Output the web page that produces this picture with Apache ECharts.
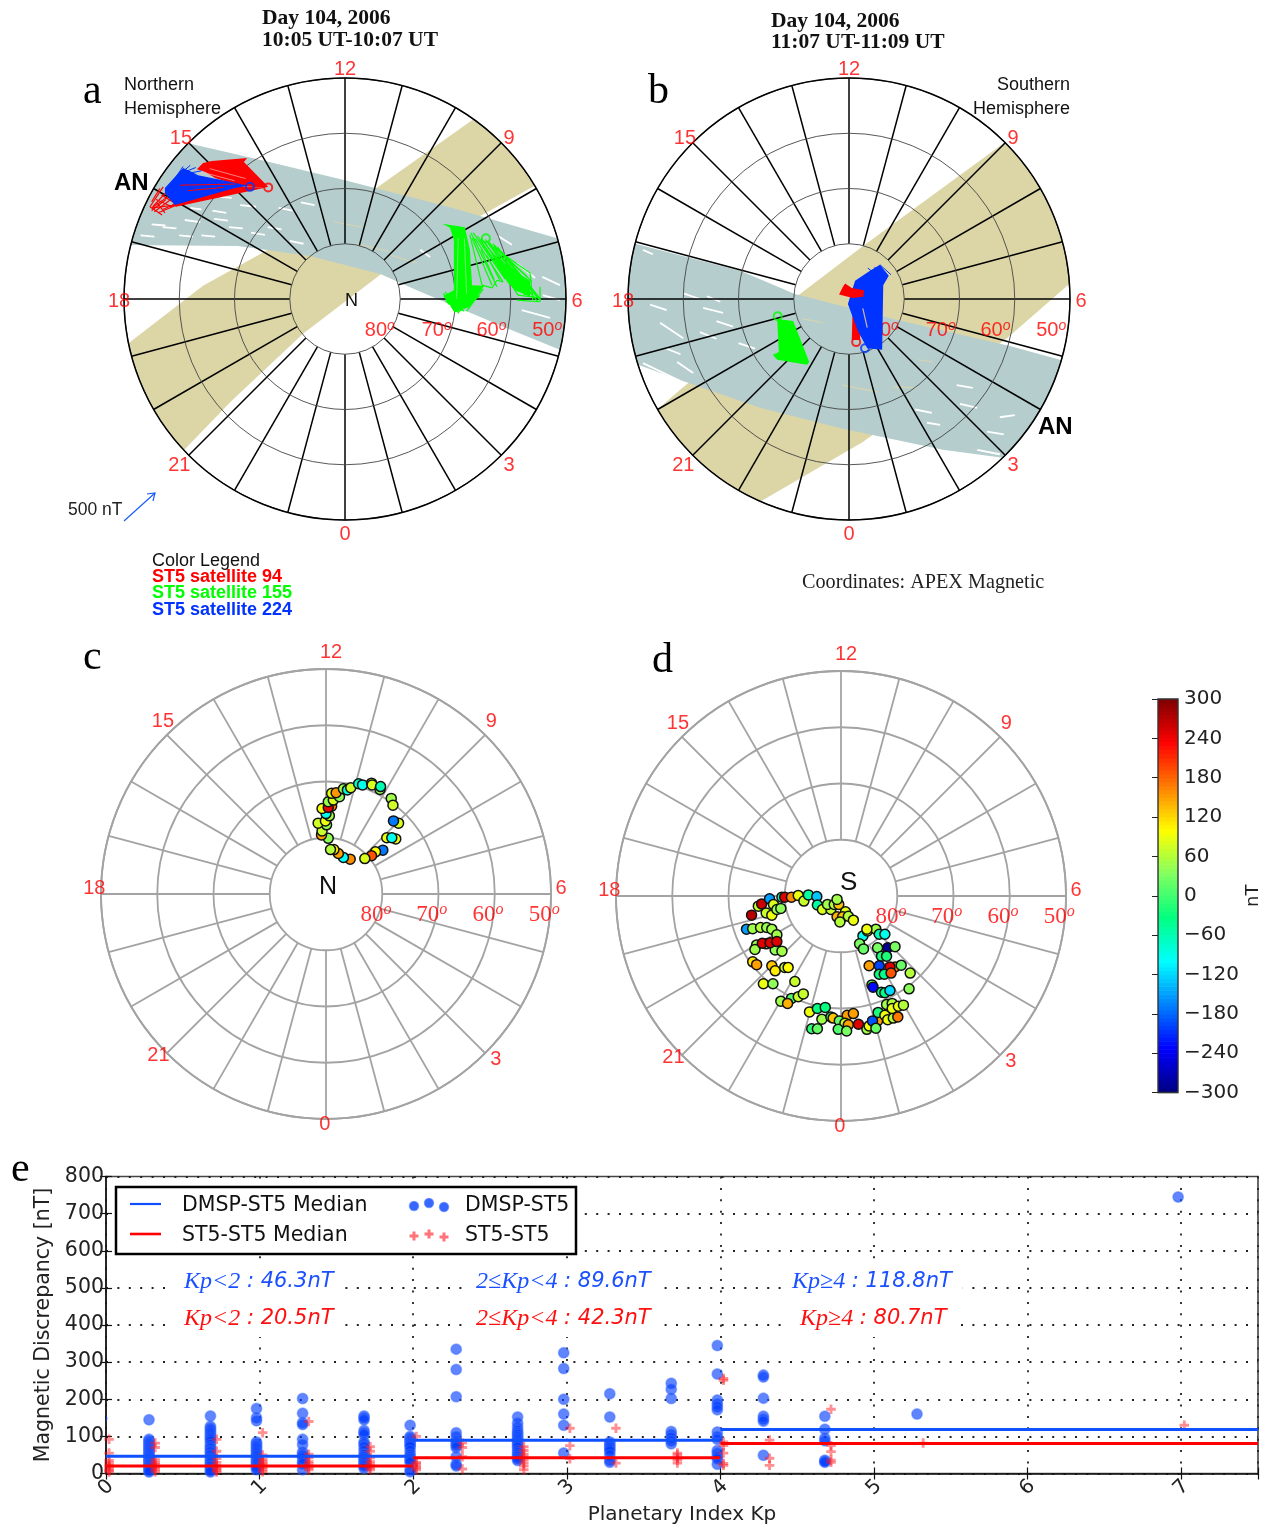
<!DOCTYPE html>
<html>
<head>
<meta charset="utf-8">
<title>ST5 / DMSP magnetic discrepancy</title>
<script src="https://cdn.jsdelivr.net/npm/echarts@6/dist/echarts.min.js"></script>
<style>
  html, body { margin: 0; padding: 0; background: #fff; }
  #main { width: 1267px; height: 1525px; }
</style>
</head>
<body>
<div id="main"></div>
<script>
// dial data are [east, north] in degrees of colatitude from the pole (east = 6 MLT, north = 12 MLT)
var hourTicks = [0,1,2,3,4,5,6,7,8,9,10,11,12,13,14,15,16,17,18,19,20,21,22,23];
var latRings = [80, 70, 60, 50];

// orbit swaths, panel a
var aTeal = [[-33.5,31.5],[-28.4,28.2],[-15.4,25.2],[0,21.5],[19,16.6],[38.4,11],[44.3,9.2],[44.3,-11.4],[38.9,-9.2],[29.1,-5.2],[13,1.6],[6.5,4.5],[-6.3,7.8],[-19.4,9.6],[-42.5,9.8]];
var aTan = [[-42.5,-10.7],[-38.9,-7.8],[-25.7,2.4],[-15.4,8.1],[6,20.3],[22.8,32.2],[26.2,34.6],[38,22.4],[34,20.3],[24.1,14.8],[6.5,4.5],[-7.6,-6.3],[-20.6,-18.5],[-28.6,-26.8],[-32.6,-30.9]];
var aWhiteStreaks = [[-23.7,14.5,-21.2,14.2],[-29,14.3,-26.2,13.9],[-19,17,-16.1,16.7],[-22.6,18.5,-20.5,18.3],[-14,13,-11.5,12.6],[-26,11.5,-23.5,11.3],[-8,17.5,-5.5,17],[27.7,11.4,30.2,9.8],[31.1,6.5,34.4,3.8],[35.7,4,38.9,2.5],[35.8,0.7,38.9,-0.2],[13.6,8.9,15.4,7.6],[32,-2,37.1,-3.4],[-33,13,-30.5,12.8],[-17,12,-14.5,11.6],[-30,11.5,-27.5,11.3],[-21,13,-18.5,12.8],[-12,16.5,-9.5,16],[-35,13.5,-32.5,13.3],[-24,16,-21.5,15.6],[-10,10.5,-7.5,10],[-28,16.5,-26,16.2],[-37,11.5,-34.5,11.3]];
var aTanStreaks = [[2,10,8,8.6],[8,8,13,6.5],[-2,14,3,13]];

// orbit swaths, panel b
var bTan = [[-37.8,-22.8],[-34.8,-20.1],[-30.2,-16.1],[-9.4,0.5],[2,9.2],[27.3,27.7],[31,30.6],[43.6,5.2],[39.5,2.4],[28.6,-7.1],[2.5,-25.9],[-16.1,-36.7],[-19.7,-39.1]];
var bTeal = [[-43.3,11.6],[-38.7,10],[-19.7,5.1],[-9.8,0.9],[8,-3.6],[29.1,-8.5],[43.6,-12.5],[34.6,-29.9],[28.2,-28.8],[17,-27.3],[-1.1,-23.5],[-16.1,-19.7],[-30.2,-14.8],[-38.2,-11.9],[-42.4,-10.7]];
var bWhiteStreaks = [[-34.2,-4.3,-30,-7.1],[-26.4,-1.6,-22.8,-2.5],[-31.1,-11.4,-28.2,-13.4],[-37.3,-11.6,-30.6,-14.8],[19.5,-15.6,22.4,-16.1],[20.1,-19,23.2,-19.7],[14.1,-22.4,16.5,-22.8],[23.2,-27.3,27.3,-28.1],[-37.3,8.9,-35.5,8.1],[-25.7,0.5,-23.3,-0.5],[27.3,-21.4,30,-21],[-36,-1,-33,-2],[-33,-9,-30.5,-10],[-24,-4,-21,-5],[-27,-6,-24,-7.2],[-30,1,-27,0],[-20,-8,-17,-9],[12,-20,15,-20.6],[25,-24,28,-24.5]];
var bTanStreaks = [[-8.3,-3.6,-4.7,-4.3],[8,-15.9,12.3,-16.1],[12.5,-11,15.2,-11.4],[-1.1,-15.6,5.1,-16.8]];

// ST5 vector fans, panel a
var aRedFan = [[-26.8,23.5],[-25.7,24.6],[-24.1,25],[-17.7,25.5],[-18.3,24.8],[-13.9,20.3],[-14.8,20.1],[-19.5,20.6],[-23.5,21.9],[-25.3,23]];
var aRedStrip = [[-14.7,20.1],[-30.6,16.7],[-31.3,17.2],[-19.9,20.5]];
var aRedVectors = [[-32,19.7,-34.8,16.7],[-31.7,18.8,-34.9,16.5],[-30.8,17,-34.9,16.5],[-32.9,20.3,-35.3,16.7],[-35.3,16.7,-33.1,15.2],[-34.2,18,-31.3,16.7],[-33.2,18.8,-30.2,17],[-33.5,20,-35,17.6],[-31,18.4,-34.5,15.8],[-30,17.2,-33.8,15.6],[-32.4,18,-35,16],[-29.8,17.6,-33,16.2],[-34,17.4,-32.6,15.6]];
var aRedGaps = [[-26,23,-20,21.4],[-24.5,23.6,-18,21.8]];
var aBlueFan = [[-32.6,20.1],[-29.3,23.7],[-27.7,23],[-26.6,22.4],[-20.8,21.2],[-17.6,20.5],[-19.9,20.1],[-30.8,17],[-32.6,19.2]];
var aBlueTicks = [[-31,21.5,-29.3,24],[-30,22.5,-28,24.2],[-29,23,-27,23.8],[-28,22.8,-26,23.2]];
var aRedInner = [[-29.9,20.6,-19.9,20.8],[-28.5,19.6,-22,20.2]];
var aGreenColumn = [[17.6,13.6],[21.7,13],[22.6,8.9],[23,2.5],[25.2,2.4],[22.6,-1.4],[19.9,-2.4],[17.8,0.6],[19.7,1.6],[19.7,10.7],[19,12.9]];
var aGreenPatch = [[26.2,8.9],[29,6.2],[33.5,3.3],[33.5,0.4],[30.8,1.6],[28.6,4.3]];
var aGreenVectors = [[22.6,11.6,24.8,2.5],[23,11,26.6,2.5],[23.5,11,28.6,3.1],[24.4,10.7,29.9,2.5],[25.2,10.5,31.3,0.7],[25.9,10.1,32.6,0.7],[26.2,9.8,33.5,4.7],[27.2,8.9,34,1.6],[28.1,8,34.9,-0.5],[29,6.7,35.3,-0.2],[31.3,0.7,35.3,0.2],[31.1,-0.2,35.3,-0.5],[33.5,4.7,34,-0.2],[35.3,2.2,35.3,-0.5],[24.8,2.5,26.6,2],[26.6,2,27.5,3.4],[27.5,3.4,28.6,3.1],[18.1,0.4,18.8,-1],[18.6,-0.2,19.9,-2.4],[18.1,1.3,20.8,-1.3],[22.8,12,27.5,2.2],[23.2,12,29,3.6],[24,11.4,30.5,2],[24.6,11,31.8,1.5],[25.4,10.8,33,1.2],[26,10.4,33.8,0.8],[26.8,10,34.5,1],[27.6,9.4,35,0.4],[28.4,8.4,35.2,0.2],[29.6,7,35.3,-0.2],[27,9.6,33,4],[28,8.6,33.8,3.2],[24.6,9,27,3.5],[25.6,8,28,3.5],[17.8,1,20.6,-2.6],[18.2,-0.4,21.6,-2.2],[20.5,-2.4,24.4,0.6],[22,-2.2,25,1.8]];
var aGreenGaps = [[20.5,11,20.2,0],[21.6,11,22,1]];

// ST5 vector fans, panel b
var bGreenBlock = [[-13,-3.6],[-10.1,-4],[-7.2,-11.4],[-7.6,-11.9],[-13,-11],[-13.8,-10.1],[-12.7,-9.6]];
var bBlueFan = [[5.6,6.2],[7.2,4.2],[6.2,2.5],[6,-9.2],[3.3,-8.9],[1.6,-5.8],[-0.2,-0.9],[1.1,3.3],[3.8,5.1]];
var bBlueTicks = [[5.6,6.2,7.6,4.4],[4.6,5.8,6.8,3.6],[3.4,5.6,6.4,3.2]];
var bBlueGaps = [[2.5,-1.7,3.3,-5.2]];
var bRedColumn = [[0.7,-0.2],[2.2,-0.2],[2,-7.4],[0.5,-7.4]];
var bRedCluster = [[-1.8,0.8],[-1.1,2.2],[-0.7,2.8],[0.5,2],[2.7,1.6],[2.6,0.4],[0.7,0.2],[-0.2,0.4]];

// vector start markers
var aRedStart = [[-13.9,20.2]];
var aBlueStart = [[-17.2,20.3]];
var aGreenStart = [[25.5,11]];
var bRedStart = [[1.3,-7.8]];
var bBlueStart = [[2.9,-8.9]];
var bGreenStart = [[-12.9,-3.1]];

// panel c conjunctions: [east, north, nT]
var dotsNorth = [[0.4,9.9,40],[-0.8,10.5,150],[-0.7,11.2,70],[0.1,12.3,45],[-1.4,12.6,75],[-0.1,13,90],[0.6,13.9,50],[0,14.3,-90],[-0.7,15.2,95],[1,15.6,170],[0.4,15.4,245],[0.4,16.4,45],[1.3,16.7,80],[2.4,17.3,40],[1,17.9,85],[1.8,18,155],[3.1,18.7,50],[3.8,18.5,-80],[4.4,18.9,75],[5.8,19.6,-70],[6.5,19.4,-90],[8.1,19.7,70],[8.2,19.4,80],[9.6,18.6,45],[9.7,19.1,-60],[11.6,17,50],[11.9,15.8,75],[12.9,12.6,80],[12,13,-170],[10.8,10,90],[12.4,9.8,90],[11.7,10,-90],[10.1,7.8,-170],[8.8,7.5,100],[8.1,6.8,190],[6.9,6.3,80],[4.3,6.2,160],[3.1,6.5,-100],[2.2,7.2,150],[1.4,7.9,110],[0.8,7.9,60]];

// panel d conjunctions: [east, north, nT]
var dotsSouth = [[-15.9,-3.4,270],[-14.7,-1.8,70],[-14.1,-1.4,260],[-12.7,-0.5,-150],[-12,-1.5,80],[-13.3,-3,70],[-12.3,-3.4,90],[-11.4,-2.4,50],[-10.7,-2.2,40],[-10.5,-0.2,-60],[-10,-0.2,250],[-8.8,-0.2,160],[-7.6,0.1,90],[-6.6,-0.9,70],[-5.8,0.2,-50],[-4.3,-0.1,-130],[-4.2,-1.6,-50],[-3.3,-2.4,80],[-1.8,-2.4,70],[-2.4,-1.5,50],[-1.2,-1.5,60],[-0.4,-1.5,130],[-0.7,-0.6,50],[0.8,-2.8,85],[-0.7,-3.7,140],[0.3,-3.7,130],[1.3,-3.6,60],[2.2,-4.3,90],[-0.2,-4.6,60],
  [-16.8,-5.9,-150],[-15.7,-5.8,50],[-14.3,-5.6,60],[-13.2,-5.6,45],[-12.3,-5.9,50],[-11.4,-6.9,50],[-15,-8.7,50],[-15.3,-9.5,50],[-13.3,-8.5,60],[-11.7,-9.6,40],[-10.5,-9.8,50],[-14,-8.4,250],[-12.6,-8.3,250],[-11.4,-8.1,250],
  [-15.7,-11.7,110],[-15,-12.2,150],[-12.3,-12.4,130],[-11.7,-13.3,110],[-10,-12.7,70],[-9.4,-12.7,100],[-13.8,-15.6,90],[-12.1,-15.6,40],[-8.2,-15.2,70],[-10.7,-18.7,50],[-8.8,-18.2,10],[-9.5,-19.1,140],[-7.6,-17.9,70],[-6.7,-17.4,70],
  [-5.6,-20.6,90],[-4.2,-20,-30],[-2.8,-19.8,-30],[-3.4,-21.9,50],[-5.2,-23.6,-10],[-4.2,-23.6,20],[-1.8,-21.5,-10],[-1.4,-21.7,130],[-0.3,-22.2,20],[1.1,-21.2,150],[2.2,-20.9,150],[0.7,-22.6,70],[1.3,-22.9,150],[3.1,-22.8,250],[-0.5,-23.7,10],[1,-24,30],[4.6,-23.7,50],[5,-23.1,90],[6.5,-22.2,150],[5.6,-22.2,-190],[6.2,-23.5,20],[6.6,-20.7,-20],[7.8,-21.2,90],[8.3,-22,90],[9.3,-21.7,60],[10.1,-21.5,170],[8.1,-19.3,50],[9.1,-19.1,60],[9.1,-20,90],[10.2,-19.6,90],[11.1,-19.4,60],
  [3.9,-7.1,-90],[3.3,-8.5,30],[4,-9.4,20],[4.7,-6.2,80],[6.2,-5.9,50],[4.6,-5.9,90],[6.8,-6.8,-60],[7.8,-6.8,-90],[6.5,-9.2,30],[8.3,-9.2,-290],[9.6,-9,30],[7.2,-10.7,-20],[8.1,-10.7,-20],[5,-12.4,150],[6.8,-12.4,-200],[9.6,-12.6,160],[8.7,-12.6,250],[10.7,-12.3,20],[6.8,-13.9,-30],[7.7,-13.9,-40],[8.9,-13.7,190],[12.3,-13.7,60],[5.5,-15.8,20],[5.7,-16.2,-230],[7.2,-17.1,-30],[7.8,-17.2,-40],[8.7,-16.8,-120],[12.1,-16.5,40]];

var jetColors = ['#00007f','#0000ff','#007fff','#00ffff','#00ff80','#80ff60','#ffff00','#ff7f00','#ff0000','#7f0000'];
var colorbarTicks = [-300,-240,-180,-120,-60,0,60,120,180,240,300];

// panel e: discrepancy in nT for each Kp bin
var kpBins = [0,0.3,0.7,1,1.3,1.7,2,2.3,2.7,3,3.3,3.7,4,4.3,4.7,5.3,7];
var dmsp00 = [148];
var dmsp03 = [145,92,88,84,80,76,72,68,64,60,56,52,48,44,40,36,32,28,24,20,16,12,8,4];
var dmsp07 = [155,127,122,117,112,107,102,97,92,87,78,72,68,62,58,52,48,42,38,32,28,22,18,12,8,4];
var dmsp10 = [175,150,142,85,80,75,70,65,60,55,50,45,40,35,30,26,20,15,10];
var dmsp13 = [202,162,137,132,92,78,58,52,48,42,32,26,10];
var dmsp17 = [155,150,145,116,110,105,85,80,72,62,52,46,40,35,30,25,20,14];
var dmsp20 = [130,100,96,92,88,84,80,76,72,62,52,46,40,35,30,10,5];
var dmsp23 = [335,280,207,110,100,88,82,76,70,45,25,20];
var dmsp27 = [152,136,125,116,110,105,100,95,90,85,80,75,70,62,56,50,45,40,35];
var dmsp30 = [325,283,200,160,130,55];
var dmsp33 = [215,152,85,80,75,70,65,60,50,36,30];
var dmsp37 = [243,227,202,113,105,97,88,80];
var dmsp40 = [345,268,198,188,180,172,112,100,92,62,55,46,40,25];
var dmsp43 = [265,260,203,154,147,141,49];
var dmsp47 = [154,119,95,88,36,33,30];
var dmsp53 = [160];
var dmsp70 = [745];
var st500 = [92,55,35,28,22,18,12,8,4];
var st503 = [82,70,37,30,25,20,15,10,5];
var st507 = [92,60,40,30,22,16,12,8,4];
var st510 = [110,50,38,33,28,24,20,15,10,5];
var st513 = [140,52,42,32,26,20,15,10];
var st517 = [72,60,42,32,25,20,15,10];
var st520 = [100,30,26,20,15,10];
var st523 = [82,70,45,12];
var st527 = [72,62,52,45,36,28,20,10];
var st530 = [122,75,40];
var st533 = [122,28];
var st537 = [55,50,42,36,28];
var st540 = [256,251,85,75,55,27,22];
var st543 = [90,41,22];
var st547 = [173,75,59,36,30];
var st553 = [82];
var st570 = [130];
var dmspColumns = [dmsp00,dmsp03,dmsp07,dmsp10,dmsp13,dmsp17,dmsp20,dmsp23,dmsp27,dmsp30,dmsp33,dmsp37,dmsp40,dmsp43,dmsp47,dmsp53,dmsp70];
var st5Columns = [st500,st503,st507,st510,st513,st517,st520,st523,st527,st530,st533,st537,st540,st543,st547,st553,st570];
var kpEdges = [0,2,4,7.5];
var dmspMedian = [46.3,89.6,118.8];
var st5Median = [20.5,42.3,80.7];
var kpRangeLabels = ['Kp<2','2≤Kp<4','Kp≥4'];

// where the four dials sit and how they are labelled
var dials = [
  {cx:345, cy:299, R:221, line:'#000', ring:'#444', ringWidth:0.9, spokeWidth:1.5},
  {cx:849, cy:299, R:221, line:'#000', ring:'#444', ringWidth:0.9, spokeWidth:1.5},
  {cx:326, cy:894, R:225, line:'#a3a3a3', ring:'#a3a3a3', ringWidth:1.8, spokeWidth:1.8},
  {cx:841, cy:896, R:225, line:'#a3a3a3', ring:'#a3a3a3', ringWidth:1.8, spokeWidth:1.8}
];
var hourLabelsTop = [['12',0,41.8],['15',-29.7,29.3],['18',-40.9,-0.2],['21',-30,-29.9],['0',0,-42.4],['3',29.7,-29.9],['6',42,-0.2],['9',29.7,29.3]];
var hourLabelsLow = [['12',0.9,43.2],['15',-29,30.9],['18',-41.2,1.2],['21',-29.8,-28.4],['0',-0.2,-40.7],['3',30.2,-29.2],['6',41.8,1.2],['9',29.4,30.9]];
var latLabelXTop = [6.3,16.6,26.5,36.6];
var latLabelXLow = [8.9,18.8,28.8,38.8];

function toPolar(p) {
  var hour = Math.atan2(p[0], -p[1]) * 180 / Math.PI / 15;
  return [Math.sqrt(p[0] * p[0] + p[1] * p[1]), (hour + 24) % 24];
}

function polygonSeries(polarIndex, points, color, z, opacity) {
  return {
    type: 'custom', coordinateSystem: 'polar', polarIndex: polarIndex, clip: true, silent: true, z: z,
    data: [[0, 0]],
    renderItem: function (params, api) {
      return {
        type: 'polygon',
        shape: { points: points.map(function (p) { return api.coord(toPolar(p)); }) },
        style: { fill: color, opacity: opacity === undefined ? 1 : opacity }
      };
    }
  };
}

function segmentSeries(polarIndex, segments, color, width, z) {
  return {
    type: 'custom', coordinateSystem: 'polar', polarIndex: polarIndex, clip: true, silent: true, z: z,
    data: segments.map(function (s, i) { return [0, i]; }),
    renderItem: function (params, api) {
      var s = segments[params.dataIndex];
      var a = api.coord(toPolar([s[0], s[1]]));
      var b = api.coord(toPolar([s[2], s[3]]));
      return {
        type: 'line',
        shape: { x1: a[0], y1: a[1], x2: b[0], y2: b[1] },
        style: { stroke: color, lineWidth: width }
      };
    }
  };
}

function startMarker(polarIndex, points, color) {
  return {
    type: 'scatter', coordinateSystem: 'polar', polarIndex: polarIndex, clip: false, silent: true, z: 9,
    symbolSize: 8,
    itemStyle: { color: 'rgba(255,255,255,0)', borderColor: color, borderWidth: 2 },
    data: points.map(toPolar)
  };
}

function spokeSeries(polarIndex) {
  var d = dials[polarIndex];
  return {
    type: 'custom', coordinateSystem: 'polar', polarIndex: polarIndex, silent: true, z: 4,
    data: hourTicks.map(function (h) { return [40, h]; }),
    renderItem: function (params, api) {
      var a = api.coord([10, api.value(1)]);
      var b = api.coord([40, api.value(1)]);
      return {
        type: 'line',
        shape: { x1: a[0], y1: a[1], x2: b[0], y2: b[1] },
        style: { stroke: d.line, lineWidth: d.spokeWidth }
      };
    }
  };
}

function textSeries(polarIndex, items, font, size, z) {
  return {
    type: 'scatter', coordinateSystem: 'polar', polarIndex: polarIndex, clip: false, silent: true, z: z,
    symbolSize: 1,
    itemStyle: { color: 'rgba(0,0,0,0)' },
    label: {
      show: true, position: 'inside', offset: [0, 1.5], color: '#ff0000', fontFamily: font, fontSize: size,
      formatter: function (p) { return items[p.dataIndex][0]; },
      rich: {
        n: { color: '#ff0000', fontFamily: font, fontSize: size },
        s: { color: '#ff0000', fontFamily: font, fontSize: size * 0.7, fontStyle: 'italic', padding: [0, 0, 9, 0] }
      }
    },
    data: items.map(function (t) { return toPolar([t[1], t[2]]); })
  };
}

function latLabels(xs, y) {
  return latRings.map(function (lat, i) { return ['{n|' + lat + '}{s|o}', xs[i], y]; });
}

var series = [];

// panel a
series.push(polygonSeries(0, aTan, '#dcd6a6', 1));
series.push(polygonSeries(0, aTeal, '#b5cdcd', 2));
series.push(segmentSeries(0, aWhiteStreaks, '#fff', 1.8, 2));
series.push(segmentSeries(0, aTanStreaks, '#d8d4ae', 1, 2));
series.push(spokeSeries(0));
series.push(textSeries(0, hourLabelsTop, 'Liberation Sans', 20, 6));
series.push(textSeries(0, latLabels(latLabelXTop, -5.4), 'Liberation Sans', 20, 6));
series.push(polygonSeries(0, aRedFan, '#ff0000', 7));
series.push(polygonSeries(0, aRedStrip, '#ff0000', 7));
series.push(segmentSeries(0, aRedVectors, '#ff0000', 1.2, 7));
series.push(segmentSeries(0, aRedGaps, '#f5b5b5', 0.7, 7));
series.push(polygonSeries(0, aBlueFan, '#0033ff', 8));
series.push(segmentSeries(0, aBlueTicks, '#0033ff', 1, 8));
series.push(segmentSeries(0, aRedInner, '#ff0000', 1, 8));
series.push(polygonSeries(0, aGreenColumn, '#00ff00', 7));
series.push(polygonSeries(0, aGreenPatch, '#00ff00', 7));
series.push(segmentSeries(0, aGreenVectors, '#00ff00', 1.2, 7));
series.push(segmentSeries(0, aGreenGaps, '#8cf08c', 0.8, 7));
series.push(startMarker(0, aRedStart, '#ff0000'));
series.push(startMarker(0, aBlueStart, '#0033ff'));
series.push(startMarker(0, aGreenStart, '#00ff00'));

// panel b
series.push(polygonSeries(1, bTan, '#dcd6a6', 1));
series.push(polygonSeries(1, bTeal, '#b5cdcd', 2));
series.push(segmentSeries(1, bWhiteStreaks, '#fff', 1.8, 2));
series.push(segmentSeries(1, bTanStreaks, '#d8d4ae', 1.2, 2));
series.push(spokeSeries(1));
series.push(textSeries(1, hourLabelsTop, 'Liberation Sans', 20, 6));
series.push(textSeries(1, latLabels(latLabelXTop, -5.4), 'Liberation Sans', 20, 6));
series.push(polygonSeries(1, bGreenBlock, '#00ff00', 7));
series.push(polygonSeries(1, bRedColumn, '#ff0000', 7));
series.push(polygonSeries(1, bBlueFan, '#0033ff', 8));
series.push(segmentSeries(1, bBlueTicks, '#0033ff', 1, 8));
series.push(segmentSeries(1, bBlueGaps, '#c9b8a8', 1.2, 8));
series.push(polygonSeries(1, bRedCluster, '#ff0000', 8));
series.push(startMarker(1, bRedStart, '#ff0000'));
series.push(startMarker(1, bBlueStart, '#0033ff'));
series.push(startMarker(1, bGreenStart, '#00ff00'));

// panels c and d
series.push(spokeSeries(2));
series.push(textSeries(2, hourLabelsLow, 'Liberation Sans', 20, 6));
series.push(textSeries(2, latLabels(latLabelXLow, -3.4), 'Liberation Serif', 23, 6));
series.push(spokeSeries(3));
series.push(textSeries(3, hourLabelsLow, 'Liberation Sans', 20, 6));
series.push(textSeries(3, latLabels(latLabelXLow, -3.4), 'Liberation Serif', 23, 6));

function dotSeries(polarIndex, dots) {
  return {
    type: 'scatter', coordinateSystem: 'polar', polarIndex: polarIndex, clip: false, silent: true, z: 8,
    symbolSize: 10,
    itemStyle: { borderColor: '#111', borderWidth: 1.5, opacity: 1 },
    data: dots.map(function (d) { var p = toPolar(d); return [p[0], p[1], d[2]]; })
  };
}
var colorSeriesIndex = [series.length, series.length + 1, series.length + 2];
series.push(dotSeries(2, dotsNorth));
series.push(dotSeries(3, dotsSouth));

// colour bar, cut into thin slices that take their colour from the same visualMap
var colorbarSlices = [];
for (var lev = -300; lev < 300; lev += 6) {
  colorbarSlices.push([lev, lev + 6, lev + 3]);
}
series.push({
  type: 'custom', xAxisIndex: 2, yAxisIndex: 2, silent: true, z: 2,
  encode: { y: [0, 1] },
  data: colorbarSlices,
  renderItem: function (params, api) {
    var a = api.coord([0, api.value(1)]);
    var b = api.coord([1, api.value(0)]);
    return {
      type: 'rect',
      shape: { x: a[0], y: a[1], width: b[0] - a[0], height: b[1] - a[1] + 0.6 },
      style: { fill: api.visual('color') }
    };
  }
});

// panel e
var plusSymbol = 'path://M3.5 0h3v3.5h3.5v3h-3.5v3.5h-3v-3.5h-3.5v-3h3.5z';
var dmspPoints = [], st5Points = [];
kpBins.forEach(function (kp, i) {
  if (kp > 0) {
    dmspColumns[i].forEach(function (v) { dmspPoints.push([kp - 0.02, v]); });
  }
  st5Columns[i].forEach(function (v) { st5Points.push([kp + 0.02, v]); });
});
function medianLine(values) {
  var out = [];
  values.forEach(function (v, i) {
    out.push([kpEdges[i], v], [kpEdges[i + 1], v]);
    if (i < values.length - 1) { out.push([kpEdges[i + 1], null]); }
  });
  return out;
}
// the dots of bin 0 lie left of the axis and are cut in half by the frame
series.push({
  type: 'custom', clip: true, silent: true, z: 2,
  data: dmsp00.map(function (v) { return [kpBins[0] - 0.02, v]; }),
  renderItem: function (params, api) {
    var p = api.coord([api.value(0), api.value(1)]);
    return { type: 'circle', shape: { cx: p[0], cy: p[1], r: 4.5 }, style: { fill: 'rgba(10,70,255,0.7)' } };
  }
});
series.push({
  name: 'DMSP-ST5', type: 'scatter', silent: true, z: 2, symbolSize: 10.5,
  itemStyle: { color: 'rgba(0,60,255,0.78)', borderColor: 'rgba(60,110,255,0.6)', borderWidth: 1.5 },
  data: dmspPoints
});
series.push({
  name: 'ST5-ST5', type: 'scatter', silent: true, z: 3, symbolSize: 9.5,
  symbol: plusSymbol,
  itemStyle: { color: 'rgba(255,20,30,0.6)' },
  data: st5Points
});
series.push({
  name: 'DMSP-ST5 Median', type: 'line', silent: true, z: 4, showSymbol: false, connectNulls: false,
  lineStyle: { color: '#0f50ff', width: 3 },
  data: medianLine(dmspMedian)
});
series.push({
  name: 'ST5-ST5 Median', type: 'line', silent: true, z: 5, showSymbol: false, connectNulls: false,
  lineStyle: { color: '#ff0000', width: 3 },
  data: medianLine(st5Median)
});

// page text and other bits that are not on an axis
var graphics = [];
function addText(x, y, text, font, size, color, extra) {
  var style = {
    x: x, y: y + 1.5, text: text, fill: color,
    font: (extra && extra.weight ? extra.weight + ' ' : '') + size + 'px "' + font + '"',
    align: (extra && extra.align) || 'left', verticalAlign: 'middle'
  };
  graphics.push({ type: 'text', silent: true, z: (extra && extra.z) || 20, style: style });
}
addText(262, 17, 'Day 104, 2006', 'Liberation Serif', 21.5, '#111', { weight: 'bold' });
addText(262, 39, '10:05 UT-10:07 UT', 'Liberation Serif', 21.5, '#111', { weight: 'bold' });
addText(771, 20, 'Day 104, 2006', 'Liberation Serif', 21.5, '#111', { weight: 'bold' });
addText(771, 41, '11:07 UT-11:09 UT', 'Liberation Serif', 21.5, '#111', { weight: 'bold' });
addText(83, 90, 'a', 'Liberation Serif', 42, '#000');
addText(648, 90, 'b', 'Liberation Serif', 42, '#000');
addText(83, 656, 'c', 'Liberation Serif', 42, '#000');
addText(652, 659, 'd', 'Liberation Serif', 42, '#000');
addText(11, 1168, 'e', 'Liberation Serif', 42, '#000');
addText(124, 84, 'Northern', 'Liberation Sans', 18, '#111');
addText(124, 108, 'Hemisphere', 'Liberation Sans', 18, '#111');
addText(1070, 84, 'Southern', 'Liberation Sans', 18, '#111', { align: 'right' });
addText(1070, 108, 'Hemisphere', 'Liberation Sans', 18, '#111', { align: 'right' });
addText(114, 182, 'AN', 'Liberation Sans', 24, '#000', { weight: 'bold' });
addText(1038, 426, 'AN', 'Liberation Sans', 24, '#000', { weight: 'bold' });
addText(345, 300, 'N', 'Liberation Sans', 18, '#111');
addText(319, 886, 'N', 'Liberation Sans', 25, '#111');
addText(840, 881, 'S', 'Liberation Sans', 26, '#111');
addText(68, 509, '500 nT', 'Liberation Sans', 17.5, '#222');
addText(152, 560, 'Color Legend', 'Liberation Sans', 18, '#111');
addText(152, 576, 'ST5 satellite 94', 'Liberation Sans', 18, '#ff0000', { weight: 'bold' });
addText(152, 592, 'ST5 satellite 155', 'Liberation Sans', 18, '#00ff00', { weight: 'bold' });
addText(152, 609, 'ST5 satellite 224', 'Liberation Sans', 18, '#0033ff', { weight: 'bold' });
addText(802, 581, 'Coordinates: APEX Magnetic', 'Liberation Serif', 20.2, '#222');
// 500 nT scale arrow
graphics.push({ type: 'polyline', silent: true, z: 20, shape: { points: [[124,521],[155,493]] }, style: { stroke: '#1a5cff', lineWidth: 1.2, fill: null } });
graphics.push({ type: 'polyline', silent: true, z: 20, shape: { points: [[147,494],[155,493],[153,501]] }, style: { stroke: '#1a5cff', lineWidth: 1.2, fill: null } });

// median read-outs, the white behind them hides the dotted grid
function addStat(x, y, range, value, color) {
  graphics.push({
    type: 'text', silent: true, z: 1,
    style: {
      x: x - 11, y: y, verticalAlign: 'middle', align: 'left',
      text: '{m|' + range + '}{s| : ' + value + 'nT}',
      backgroundColor: '#fff', padding: [6, 11, 6, 11],
      rich: {
        m: { fill: color, font: 'italic 24px "Liberation Serif"' },
        s: { fill: color, font: 'italic 21px "DejaVu Sans"' }
      }
    }
  });
}
var statX = [184, 476, 792];
var statXRed = [184, 476, 800];
kpRangeLabels.forEach(function (range, i) {
  addStat(statX[i], 1282, range, dmspMedian[i], '#1a50ff');
  addStat(statXRed[i], 1319, range, st5Median[i], '#ff1010');
});

// panel e legend box
graphics.push({ type: 'rect', silent: true, z: 30, shape: { x: 116, y: 1187, width: 460, height: 67 }, style: { fill: '#fff', stroke: '#000', lineWidth: 2.5 } });
graphics.push({ type: 'line', silent: true, z: 31, shape: { x1: 130, y1: 1204, x2: 161, y2: 1204 }, style: { stroke: '#0f50ff', lineWidth: 2.2 } });
graphics.push({ type: 'line', silent: true, z: 31, shape: { x1: 130, y1: 1234, x2: 161, y2: 1234 }, style: { stroke: '#ff0000', lineWidth: 2.6 } });
addText(182, 1204, 'DMSP-ST5 Median', 'DejaVu Sans', 20.5, '#111', { z: 31 });
addText(182, 1234, 'ST5-ST5 Median', 'DejaVu Sans', 20.5, '#111', { z: 31 });
addText(465, 1204, 'DMSP-ST5', 'DejaVu Sans', 20.5, '#111', { z: 31 });
addText(465, 1234, 'ST5-ST5', 'DejaVu Sans', 20.5, '#111', { z: 31 });
[[414,1206],[429,1203],[444,1207]].forEach(function (p) {
  graphics.push({ type: 'circle', silent: true, z: 31, shape: { cx: p[0], cy: p[1], r: 4.5 }, style: { fill: 'rgba(0,60,255,0.78)', stroke: 'rgba(60,110,255,0.6)', lineWidth: 1.5 } });
});
[[414,1236],[429,1234],[444,1237]].forEach(function (p) {
  graphics.push({ type: 'polygon', silent: true, z: 31, x: p[0], y: p[1], shape: { points: [[-1.5,-4.5],[1.5,-4.5],[1.5,-1.5],[4.5,-1.5],[4.5,1.5],[1.5,1.5],[1.5,4.5],[-1.5,4.5],[-1.5,1.5],[-4.5,1.5],[-4.5,-1.5],[-1.5,-1.5]] }, style: { fill: 'rgba(255,20,30,0.6)' } });
});

var dottedGrid = { show: true, lineStyle: { color: '#222', width: 1.8, type: [2, 9.4] } };
var mainFont = 'DejaVu Sans';

var option = {
  animation: false,
  backgroundColor: '#fff',
  polar: dials.map(function (d) { return { center: [d.cx, d.cy], radius: d.R }; }),
  angleAxis: dials.map(function (d, i) {
    return {
      polarIndex: i, type: 'value', min: 0, max: 24, startAngle: 270, clockwise: false, z: 5,
      axisLabel: { show: false }, axisTick: { show: false }, splitLine: { show: false },
      axisLine: { show: true, lineStyle: { color: d.line, width: d.spokeWidth } }
    };
  }),
  radiusAxis: dials.map(function (d, i) {
    return {
      polarIndex: i, type: 'value', min: 0, max: 40, interval: 10, z: 5,
      axisLine: { show: false }, axisLabel: { show: false }, axisTick: { show: false },
      splitLine: { show: true, lineStyle: { color: d.ring, width: d.ringWidth } }
    };
  }),
  grid: [
    { left: 106, top: 1176.5, width: 1152, height: 297, outerBoundsMode: 'none', show: true, borderColor: '#444', borderWidth: 1.6, backgroundColor: '#fff', z: 0 },
    { left: 1158, top: 699, width: 20, height: 393.5, outerBoundsMode: 'none', show: false }
  ],
  xAxis: [
    {
      gridIndex: 0, type: 'value', min: 0, max: 7.5, interval: 1,
      name: 'Planetary Index Kp', nameLocation: 'middle', nameGap: 31,
      nameTextStyle: { fontFamily: mainFont, fontSize: 20, color: '#222' },
      axisLine: { lineStyle: { color: '#111', width: 1.5 } },
      axisTick: { inside: true, length: 6, lineStyle: { color: '#111', width: 1.2 } },
      axisLabel: {
        rotate: 45, margin: 14, align: 'center', verticalAlign: 'middle', color: '#222', fontFamily: mainFont, fontSize: 20,
        formatter: function (v) { return v % 1 === 0 ? String(v) : ''; }
      },
      splitLine: dottedGrid
    },
    {
      gridIndex: 0, type: 'value', position: 'top', min: 0, max: 7.5, interval: 1,
      axisLine: { show: false }, axisLabel: { show: false }, splitLine: { show: false },
      axisTick: { inside: true, length: 6, lineStyle: { color: '#111', width: 1.2 } }
    },
    { gridIndex: 1, type: 'value', min: 0, max: 1, show: false }
  ],
  yAxis: [
    {
      gridIndex: 0, type: 'value', min: 0, max: 800, interval: 100,
      name: 'Magnetic Discrepancy [nT]', nameLocation: 'middle', nameGap: 43, nameRotate: 90,
      nameTextStyle: { fontFamily: mainFont, fontSize: 20.5, color: '#222' },
      axisLine: { lineStyle: { color: '#111', width: 1.5 } },
      axisTick: { inside: true, length: 6, lineStyle: { color: '#111', width: 1.2 } },
      axisLabel: { margin: 2, color: '#222', fontFamily: mainFont, fontSize: 20.5 },
      splitLine: dottedGrid
    },
    {
      gridIndex: 0, type: 'value', position: 'right', min: 0, max: 800, interval: 100,
      axisLine: { show: false }, axisLabel: { show: false }, splitLine: { show: false },
      axisTick: { inside: true, length: 6, lineStyle: { color: '#111', width: 1.2 } }
    },
    {
      gridIndex: 1, type: 'value', position: 'right', min: colorbarTicks[0], max: colorbarTicks[colorbarTicks.length - 1], interval: 60, z: 6,
      name: 'nT', nameLocation: 'middle', nameGap: 66, nameRotate: 90,
      nameTextStyle: { fontFamily: mainFont, fontSize: 18, color: '#222' },
      axisLine: { show: false },
      axisTick: { inside: true, length: 6, lineStyle: { color: '#222', width: 1 } },
      axisLabel: {
        margin: 6, color: '#222', fontFamily: mainFont, fontSize: 20,
        formatter: function (v) { return String(v).replace('-', '\u2212'); }
      },
      splitLine: { show: false }
    }
  ],
  visualMap: {
    type: 'continuous', show: false, min: -300, max: 300, dimension: 2,
    seriesIndex: colorSeriesIndex,
    inRange: { color: jetColors }
  },
  graphic: graphics.concat([
    { type: 'rect', silent: true, z: 7, shape: { x: 1158, y: 699, width: 20, height: 393.5 }, style: { fill: null, stroke: '#333', lineWidth: 1.4 } }
  ]),
  series: series
};

var chart = echarts.init(document.getElementById('main'));
chart.setOption(option);
</script>
</body>
</html>
